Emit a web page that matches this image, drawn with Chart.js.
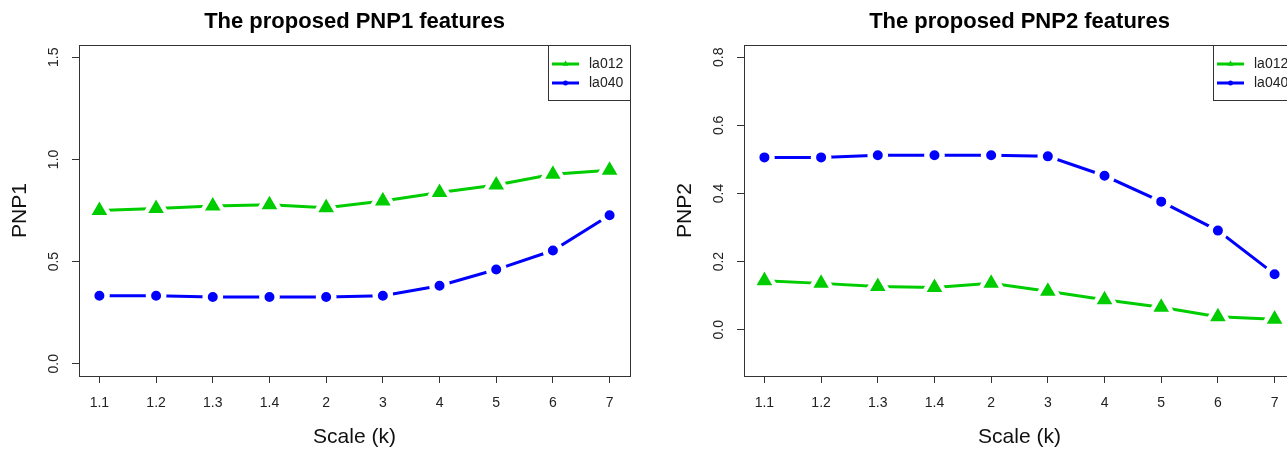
<!DOCTYPE html>
<html>
<head>
<meta charset="utf-8">
<script src="https://cdn.jsdelivr.net/npm/chart.js@4.4.1/dist/chart.umd.min.js"></script>
<style>
  html, body { margin: 0; padding: 0; background: #fff; }
  body { width: 1287px; height: 450px; overflow: hidden; position: relative; }
  .plot { position: absolute; top: 0; width: 665px; height: 450px; }
</style>
</head>
<body>
<div class="plot" style="left:0"><canvas id="pnp1Chart" width="665" height="450"></canvas></div>
<div class="plot" style="left:665px"><canvas id="pnp2Chart" width="665" height="450"></canvas></div>
<script>
const scaleLabels = ['1.1', '1.2', '1.3', '1.4', '2', '3', '4', '5', '6', '7'];

const pnp1La012 = [0.750, 0.760, 0.772, 0.778, 0.764, 0.797, 0.838, 0.875, 0.927, 0.947];
const pnp1La040 = [0.333, 0.333, 0.327, 0.327, 0.327, 0.333, 0.382, 0.461, 0.554, 0.727];

const pnp2La012 = [0.144, 0.136, 0.127, 0.124, 0.136, 0.113, 0.088, 0.066, 0.038, 0.031];
const pnp2La040 = [0.506, 0.506, 0.512, 0.512, 0.512, 0.509, 0.452, 0.376, 0.291, 0.163];

const pnp1Ticks = [0, 0.5, 1.0, 1.5];
const pnp2Ticks = [0, 0.2, 0.4, 0.6, 0.8];

const GREEN = '#00CD00';
const BLUE = '#0000FF';
const FONT = "'Liberation Sans', Arial, sans-serif";

// box round the plot region + R style legend in the top right corner
const boxAndLegend = {
    id: 'boxAndLegend',
    afterDraw(chart) {
        const ctx = chart.ctx;
        const a = chart.chartArea;
        ctx.save();
        ctx.strokeStyle = '#333';
        ctx.lineWidth = 1;
        ctx.strokeRect(Math.round(a.left) + 0.5, Math.round(a.top) + 0.5,
            Math.round(a.right - a.left), Math.round(a.bottom - a.top));

        const lw = 82, lh = 55;
        const lx = Math.round(a.right) - lw, ly = Math.round(a.top);
        ctx.fillStyle = '#fff';
        ctx.fillRect(lx + 1, ly + 1, lw - 1, lh - 1);
        ctx.strokeRect(lx + 0.5, ly + 0.5, lw, lh);

        chart.data.datasets.forEach((ds, i) => {
            const y = ly + 19 + i * 19;
            const mx = lx + 17.5;
            ctx.strokeStyle = ds.borderColor;
            ctx.fillStyle = ds.borderColor;
            ctx.lineWidth = 3;
            ctx.beginPath();
            ctx.moveTo(lx + 4, y);
            ctx.lineTo(lx + 31, y);
            ctx.stroke();
            ctx.beginPath();
            if (ds.pointStyle === 'triangle') {
                const r = 3.5;
                ctx.moveTo(mx, y - r);
                ctx.lineTo(mx + r * 0.866, y + r / 2);
                ctx.lineTo(mx - r * 0.866, y + r / 2);
                ctx.closePath();
            } else {
                ctx.arc(mx, y, 2.5, 0, Math.PI * 2);
            }
            ctx.fill();
            ctx.fillStyle = '#222';
            ctx.font = '14px ' + FONT;
            ctx.textBaseline = 'middle';
            ctx.textAlign = 'left';
            ctx.fillText(ds.label, lx + 41, y);
        });
        ctx.restore();
    }
};

function toPoints(values) {
    return values.map((v, i) => ({ x: i + 1, y: v }));
}

function makeChart(id, titleText, yTitle, green, blue, yMin, yMax, yTicks) {
    const tickGrid = {
        display: true,
        drawOnChartArea: false,
        drawTicks: true,
        tickLength: 7,
        color: '#333',
        lineWidth: 1
    };
    return new Chart(document.getElementById(id), {
        type: 'line',
        data: {
            datasets: [{
                label: 'la012',
                data: toPoints(green),
                borderColor: GREEN,
                backgroundColor: GREEN,
                pointBackgroundColor: GREEN,
                pointBorderColor: '#fff',
                pointBorderWidth: 4.4,
                pointStyle: 'triangle',
                pointRadius: 13.4,
                borderWidth: 3,
                tension: 0
            }, {
                label: 'la040',
                data: toPoints(blue),
                borderColor: BLUE,
                backgroundColor: BLUE,
                pointBackgroundColor: BLUE,
                pointBorderColor: '#fff',
                pointBorderWidth: 5.4,
                pointStyle: 'circle',
                pointRadius: 7.7,
                borderWidth: 3,
                tension: 0
            }]
        },
        options: {
            responsive: false,
            animation: false,
            devicePixelRatio: 1,
            layout: { padding: { left: 0, right: 35, top: 0, bottom: 0 } },
            plugins: {
                legend: { display: false },
                tooltip: { enabled: false },
                title: {
                    display: true,
                    text: titleText,
                    fullSize: false,
                    color: '#000',
                    font: { family: FONT, size: 22, weight: 'bold' },
                    padding: { top: 9, bottom: 9.6 }
                }
            },
            scales: {
                x: {
                    type: 'linear',
                    min: 0.64,
                    max: 10.36,
                    afterBuildTicks: s => { s.ticks = scaleLabels.map((_, i) => ({ value: i + 1 })); },
                    afterFit: s => { s.height = 74; },
                    ticks: {
                        callback: v => scaleLabels[v - 1],
                        font: { family: FONT, size: 14 },
                        color: '#222',
                        padding: 12,
                        maxRotation: 0,
                        autoSkip: false
                    },
                    grid: tickGrid,
                    border: { display: false },
                    title: {
                        display: true,
                        text: 'Scale (k)',
                        color: '#111',
                        font: { family: FONT, size: 21 },
                        padding: { top: 0, bottom: 0 }
                    }
                },
                y: {
                    type: 'linear',
                    min: yMin,
                    max: yMax,
                    afterBuildTicks: s => { s.ticks = yTicks.map(v => ({ value: v })); },
                    afterFit: s => { s.width = 79; },
                    ticks: {
                        callback: v => v.toFixed(1),
                        font: { family: FONT, size: 14 },
                        color: '#222',
                        minRotation: 90,
                        maxRotation: 90,
                        crossAlign: 'center',
                        padding: 8
                    },
                    grid: tickGrid,
                    border: { display: false },
                    title: {
                        display: true,
                        text: yTitle,
                        color: '#111',
                        font: { family: FONT, size: 21 },
                        padding: { top: 8, bottom: 0 }
                    }
                }
            }
        },
        plugins: [boxAndLegend]
    });
}

makeChart('pnp1Chart', 'The proposed PNP1 features', 'PNP1', pnp1La012, pnp1La040, -0.06, 1.56, pnp1Ticks);
makeChart('pnp2Chart', 'The proposed PNP2 features', 'PNP2', pnp2La012, pnp2La040, -0.136, 0.836, pnp2Ticks);
</script>
</body>
</html>
